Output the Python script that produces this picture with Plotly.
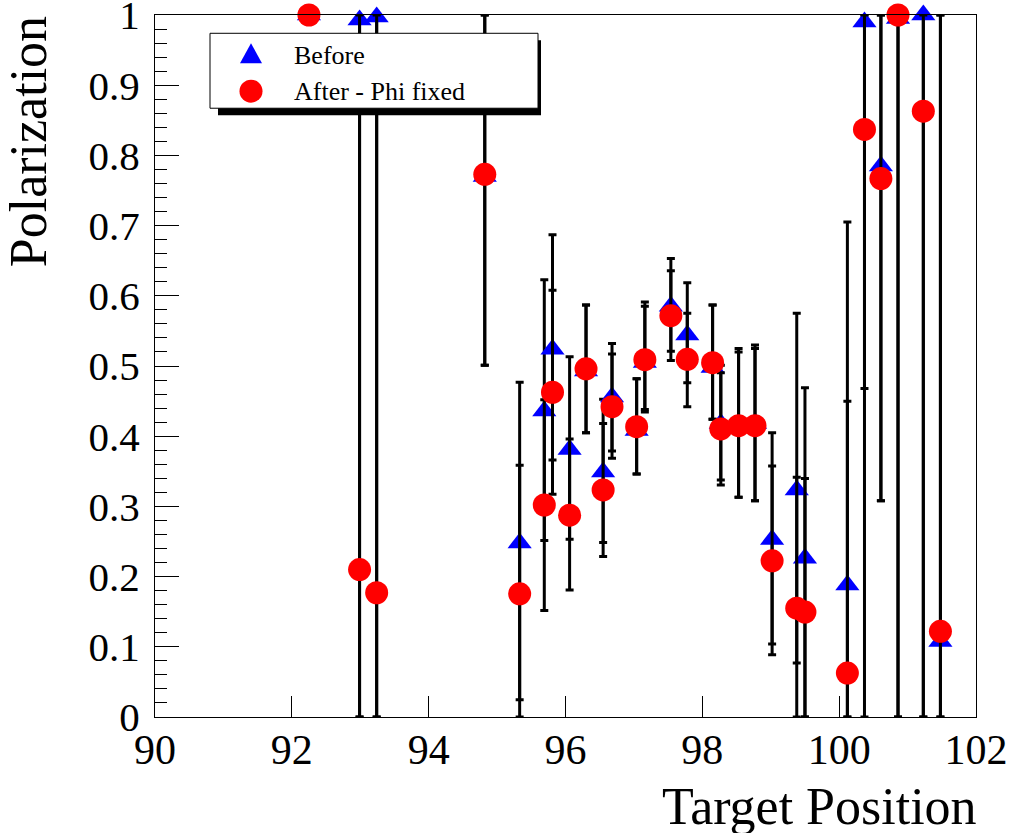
import plotly.graph_objects as go

# ---- data ----
target_position = [92.25, 92.99, 93.24, 94.82, 95.33, 95.69, 95.81, 96.06, 96.30, 96.55,
                   96.68, 97.04, 97.16, 97.54, 97.78, 98.15, 98.27, 98.53, 98.77, 99.02,
                   99.38, 99.50, 100.12, 100.37, 100.61, 100.86, 101.23, 101.48]

before = [1.0, 0.993, 0.997, 0.770, 0.248, 0.436, 0.524, 0.381, 0.493, 0.349,
          0.456, 0.408, 0.505, 0.585, 0.544, 0.498, 0.418, 0.417, 0.418, 0.253,
          0.3235, 0.2263, 0.188, 0.990, 0.785, 0.995, 1.0, 0.1077]
before_hi = [1.0, 1.0, 1.0, 1.0, 0.477, 0.623, 0.687, 0.513, 0.587, 0.4526,
             0.532, 0.482, 0.585, 0.653, 0.6186, 0.587, 0.501, 0.525, 0.530, 0.405,
             0.575, 0.469, 0.705, 1.0, 1.0, 1.0, 1.0, 1.0]
before_lo = [1.0, 0.0, 0.0, 0.501, 0.0246, 0.2514, 0.366, 0.2533, 0.405, 0.2485,
             0.379, 0.346, 0.4345, 0.521, 0.476, 0.424, 0.3377, 0.313, 0.308, 0.104,
             0.0769, 0.0, 0.0, 0.0, 0.308, 0.0, 0.0, 0.0]

after = [1.0, 0.210, 0.177, 0.773, 0.1755, 0.302, 0.4626, 0.2875, 0.496, 0.3235,
         0.442, 0.4136, 0.509, 0.5716, 0.5095, 0.5047, 0.4103, 0.415, 0.415, 0.2225,
         0.155, 0.1494, 0.0626, 0.837, 0.767, 1.0, 0.863, 0.122]
after_hi = [1.0, 1.0, 1.0, 1.0, 0.3587, 0.452, 0.608, 0.396, 0.587, 0.418,
            0.517, 0.482, 0.591, 0.6357, 0.575, 0.587, 0.4905, 0.520, 0.525, 0.3577,
            0.3416, 0.3396, 0.4497, 1.0, 1.0, 1.0, 1.0, 1.0]
after_lo = [1.0, 0.0, 0.0, 0.501, 0.0, 0.1518, 0.3174, 0.1808, 0.405, 0.2286,
            0.3686, 0.346, 0.438, 0.508, 0.442, 0.424, 0.3306, 0.313, 0.308, 0.0887,
            0.0, 0.0, 0.0, 0.468, 0.308, 0.0, 0.0, 0.0]

series_names = ["Before", "After - Phi fixed"]
x_ticks = [90, 92, 94, 96, 98, 100, 102]
y_ticks = [0, 0.1, 0.2, 0.3, 0.4, 0.5, 0.6, 0.7, 0.8, 0.9, 1.0]
y_tick_labels = ["0", "0.1", "0.2", "0.3", "0.4", "0.5", "0.6", "0.7", "0.8", "0.9", "1"]

# ---- layout geometry (screen pixels; body margin removed via post_script) ----
W, H = 1011, 833
PL, PR, PT, PB = 155, 976, 14.7, 717.3   # plot area on screen
L, T = PL, PT
PW, PH = PR - PL, PB - PT
R = W - L - PW
B = H - T - PH


def px(xp):
    return (xp - PL) / PW


def py(yp):
    return (PB - yp) / PH


FONT = "Liberation Serif, Times New Roman, serif"

fig = go.Figure()


def err_trace(y, hi, lo, name, symbol, color, size):
    plus = [h - v for h, v in zip(hi, y)]
    minus = [v - l for v, l in zip(y, lo)]
    return go.Scatter(
        x=target_position, y=y, mode="markers", name=name,
        marker=dict(symbol=symbol, color=color, size=size, line=dict(width=0)),
        error_y=dict(type="data", symmetric=False, array=plus, arrayminus=minus,
                     color="black", thickness=3, width=4),
        cliponaxis=False, showlegend=False, hoverinfo="skip",
    )


fig.add_trace(err_trace(before, before_hi, before_lo, series_names[0], "triangle-up", "#0000ff", 21))
fig.add_trace(err_trace(after, after_hi, after_lo, series_names[1], "circle", "#ff0000", 23))

fig.update_xaxes(
    range=[90, 102], tickvals=x_ticks, ticks="inside", ticklen=21, tickwidth=1, tickcolor="black",
    showline=True, linecolor="black", linewidth=1, mirror=True, showgrid=False, zeroline=False,
    tickfont=dict(family=FONT, size=42, color="black"), ticklabelstandoff=-4,
    ticklabeloverflow="allow", automargin=False,
)
fig.update_yaxes(
    range=[0, 1], tickvals=y_ticks, ticktext=y_tick_labels,
    ticks="inside", ticklen=24, tickwidth=1, tickcolor="black",
    minor=dict(dtick=0.02, ticks="inside", ticklen=12, tickcolor="black", tickwidth=1, showgrid=False),
    showline=True, linecolor="black", linewidth=1, mirror=True, showgrid=False, zeroline=False,
    tickfont=dict(family=FONT, size=41, color="black"), ticklabelstandoff=6,
    ticklabeloverflow="allow", automargin=False,
)

shapes = []
# legend shadow and box
shapes.append(dict(type="rect", xref="paper", yref="paper", layer="above",
                   x0=px(218), x1=px(541), y0=py(115), y1=py(40),
                   fillcolor="black", line=dict(width=0)))
shapes.append(dict(type="rect", xref="paper", yref="paper", layer="above",
                   x0=px(210), x1=px(538), y0=py(108), y1=py(33),
                   fillcolor="white", line=dict(color="black", width=1)))
# legend markers
tx, ty = 251, 55
shapes.append(dict(type="path", xref="paper", yref="paper", layer="above",
                   path=f"M {px(tx-11)},{py(ty+8)} L {px(tx+11)},{py(ty+8)} L {px(tx)},{py(ty-12)} Z",
                   fillcolor="#0000ff", line=dict(width=0)))
cx, cy, r = 251, 91, 11.5
shapes.append(dict(type="circle", xref="paper", yref="paper", layer="above",
                   x0=px(cx - r), x1=px(cx + r), y0=py(cy + r), y1=py(cy - r),
                   fillcolor="#ff0000", line=dict(width=0)))

annotations = [
    dict(text=series_names[0], xref="paper", yref="paper", x=px(292), y=py(55),
         xanchor="left", yanchor="middle", showarrow=False,
         font=dict(family=FONT, size=26, color="black")),
    dict(text=series_names[1], xref="paper", yref="paper", x=px(292), y=py(91),
         xanchor="left", yanchor="middle", showarrow=False,
         font=dict(family=FONT, size=26, color="black")),
    dict(text="Target Position", xref="paper", yref="paper", x=px(979), y=py(807),
         xanchor="right", yanchor="middle", showarrow=False,
         font=dict(family=FONT, size=52, color="black")),
    dict(text="Polarization", xref="paper", yref="paper", x=px(28), y=py(142),
         xanchor="center", yanchor="middle", textangle=-90, showarrow=False,
         font=dict(family=FONT, size=52, color="black")),
]

fig.update_layout(
    width=W, height=H, autosize=False,
    margin=dict(l=L, r=R, t=T, b=B, pad=0, autoexpand=False),
    paper_bgcolor="white", plot_bgcolor="white",
    shapes=shapes, annotations=annotations, showlegend=False,
)

fig.write_html(
    "out.html",
    config={"displayModeBar": False, "responsive": False},
    post_script="document.body.style.margin='0';document.body.style.overflow='hidden';",
)
